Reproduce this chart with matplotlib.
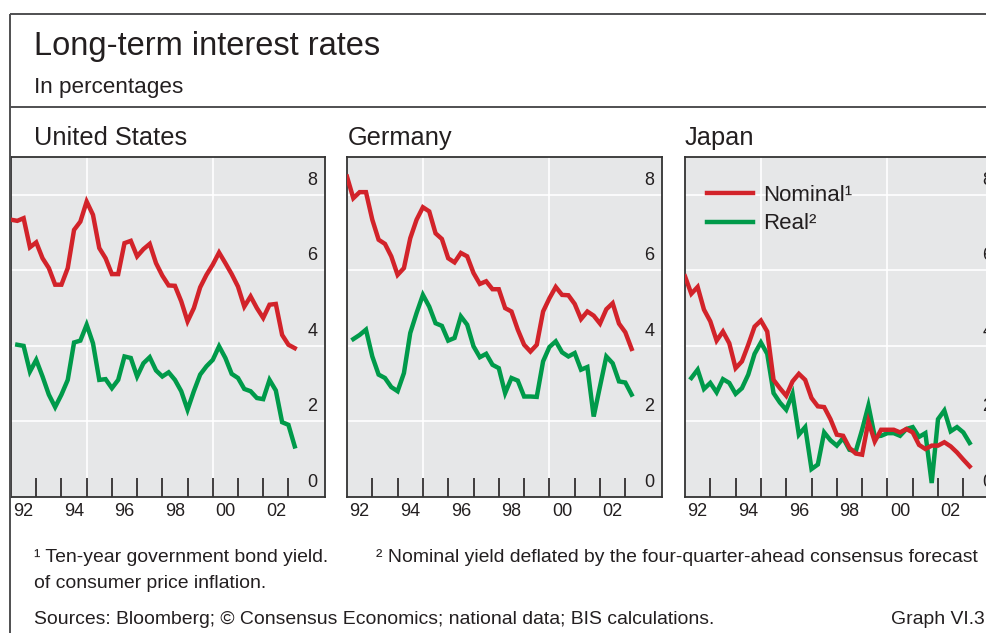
import matplotlib
matplotlib.use("Agg")
import matplotlib.pyplot as plt
import pandas as pd
from matplotlib.lines import Line2D
from matplotlib.transforms import ScaledTranslation

plt.rcParams['font.family'] = ['Liberation Sans', 'DejaVu Sans']

# ---- data (quarterly, per cent) -------------------------------------------
countries = ["United States", "Germany", "Japan"]

us_nominal = [7.34, 7.31, 7.38, 6.61, 6.74, 6.32, 6.06, 5.62, 5.62, 6.06,
              7.07, 7.29, 7.82, 7.47, 6.59, 6.32, 5.90, 5.90, 6.72, 6.78,
              6.37, 6.56, 6.70, 6.19, 5.86, 5.60, 5.59, 5.18, 4.65, 5.00,
              5.55, 5.88, 6.15, 6.47, 6.19, 5.90, 5.57, 5.04, 5.31, 5.00,
              4.74, 5.09, 5.11, 4.29, 4.03, 3.94]
us_real = [4.03, 4.00, 3.32, 3.63, 3.19, 2.71, 2.38, 2.71, 3.10,
           4.09, 4.14, 4.56, 4.07, 3.10, 3.12, 2.88, 3.10, 3.72, 3.68,
           3.19, 3.54, 3.70, 3.35, 3.19, 3.30, 3.10, 2.80, 2.31, 2.80,
           3.24, 3.46, 3.63, 3.99, 3.68, 3.26, 3.15, 2.86, 2.80, 2.62,
           2.59, 3.10, 2.82, 1.98, 1.91, 1.34]

de_nominal = [8.48, 7.91, 8.07, 8.07, 7.34, 6.81, 6.70, 6.37, 5.88, 6.06,
              6.85, 7.34, 7.67, 7.56, 6.98, 6.83, 6.32, 6.21, 6.46, 6.37,
              5.93, 5.64, 5.71, 5.50, 5.50, 5.00, 4.91, 4.43, 4.03, 3.85,
              4.03, 4.91, 5.26, 5.56, 5.35, 5.34, 5.11, 4.71, 4.91, 4.80,
              4.59, 4.97, 5.13, 4.59, 4.36, 3.92]
de_real = [4.18, 4.29, 4.43, 3.72, 3.24, 3.15, 2.91, 2.80, 3.28,
           4.34, 4.87, 5.35, 5.04, 4.60, 4.53, 4.14, 4.21, 4.78, 4.56,
           3.99, 3.70, 3.79, 3.50, 3.41, 2.75, 3.15, 3.08, 2.66, 2.66,
           2.65, 3.59, 3.97, 4.12, 3.83, 3.72, 3.81, 3.37, 3.44, 2.13,
           2.93, 3.72, 3.54, 3.06, 3.03, 2.71]

jp_nominal = [5.84, 5.38, 5.56, 4.96, 4.65, 4.14, 4.38, 4.07, 3.41, 3.59,
              4.03, 4.51, 4.67, 4.38, 3.10, 2.88, 2.68, 3.06, 3.26, 3.10,
              2.62, 2.40, 2.38, 2.06, 1.65, 1.62, 1.30, 1.15, 1.12, 2.00,
              1.47, 1.78, 1.78, 1.78, 1.71, 1.80, 1.71, 1.38, 1.27, 1.36,
              1.36, 1.45, 1.34, 1.18, 0.99, 0.81]
jp_real = [3.15, 3.37, 2.86, 3.02, 2.77, 3.12, 3.02, 2.73, 2.88,
           3.24, 3.79, 4.09, 3.79, 2.75, 2.50, 2.31, 2.73, 1.65, 1.85,
           0.74, 0.86, 1.71, 1.50, 1.36, 1.56, 1.25, 1.21, 1.78, 2.42,
           1.60, 1.62, 1.69, 1.69, 1.62, 1.80, 1.85, 1.59, 1.69, 0.37,
           2.06, 2.29, 1.74, 1.85, 1.71, 1.43]

nominal_q = pd.period_range("1992Q1", "2003Q2", freq="Q")
real_q = pd.period_range("1992Q2", "2003Q2", freq="Q")

year_labels = ["92", "94", "96", "98", "00", "02"]
label_years = [1992, 1994, 1996, 1998, 2000, 2002]
y_ticks = [0, 2, 4, 6, 8]

series = {
    "United States": (us_nominal, us_real),
    "Germany": (de_nominal, de_real),
    "Japan": (jp_nominal, jp_real),
}


def quarter_x(periods):
    return periods.year + (periods.quarter - 1) / 4.0


# ---- styling --------------------------------------------------------------
RED = "#D2232A"
GREEN = "#009A4A"
PANEL = "#E6E7E8"
INK = "#231F20"
FRAME = "#4F4F51"

W, H = 987, 633
fig = plt.figure(figsize=(W / 100, H / 100), dpi=100)


def fx(px):
    return px / W


def fy(py):
    return 1 - py / H


# outer frame of the graph box
frame_kw = dict(transform=fig.transFigure, color=FRAME, lw=1.4, solid_capstyle="butt")
fig.add_artist(Line2D([fx(10), fx(10)], [0, fy(14)], **frame_kw))
fig.add_artist(Line2D([fx(10), 1], [fy(14), fy(14)], **frame_kw))
fig.add_artist(Line2D([fx(10), 1], [fy(107), fy(107)], **frame_kw))

fig.text(fx(34), fy(46), "Long-term interest rates", fontsize=23.5,
         color=INK, va="center", ha="left")
fig.text(fx(34), fy(87), "In percentages", fontsize=16.2, color=INK,
         va="center", ha="left")

panel_lr = [(11, 325), (347, 662), (685, 1000)]
title_x = [34, 348, 685]
top_px, bot_px = 157, 497

for name, (l, r), tx in zip(countries, panel_lr, title_x):
    ax = fig.add_axes([fx(l), fy(bot_px), (r - l) / W, (bot_px - top_px) / H])
    ax.set_facecolor(PANEL)
    nominal, real = series[name]

    ax.set_xlim(1992, 2004.45)
    ax.set_ylim(0, 9)

    for v in y_ticks[1:]:
        ax.axhline(v, color="white", lw=1.2, zorder=1)
    for yr in (1995, 2000):
        ax.axvline(yr, color="white", lw=1.2, zorder=1)

    ln_real, = ax.plot(quarter_x(real_q), real, color=GREEN, lw=3.2,
                       solid_joinstyle="miter", zorder=3, label="Real²")
    ln_nom, = ax.plot(quarter_x(nominal_q), nominal, color=RED, lw=3.2,
                      solid_joinstyle="miter", zorder=4, label="Nominal¹")

    for s in ax.spines.values():
        s.set_color("#333333")
        s.set_linewidth(1.3)

    # year boundary ticks pointing inwards
    ax.set_xticks(range(1993, 2004))
    ax.tick_params(axis="x", which="major", direction="in", length=13.5,
                   width=1.2, color=INK, labelbottom=False)
    ax.set_xticks([y + 0.5 for y in label_years], minor=True)
    ax.set_xticklabels(year_labels, minor=True)
    ax.tick_params(axis="x", which="minor", length=0, pad=4.5,
                   labelsize=13, labelcolor=INK)

    # value labels sit just above their grid lines, inside the right edge
    ax.set_yticks([])
    lift = ScaledTranslation(-0.175, 0.147, fig.dpi_scale_trans)
    for v in y_ticks:
        ax.text(1, v, str(v), transform=ax.get_yaxis_transform() + lift,
                fontsize=13, color=INK, ha="left", va="center")

    fig.text(fx(tx), fy(138), name, fontsize=18.3, color=INK,
             va="center", ha="left")

    if name == "Japan":
        ax.legend(handles=[ln_nom, ln_real], loc="upper left",
                  bbox_to_anchor=(fx(707), fy(185)),
                  bbox_transform=fig.transFigure, frameon=False,
                  fontsize=16, handlelength=2.07, handletextpad=0.45,
                  labelspacing=0.33, borderpad=0, borderaxespad=0,
                  labelcolor=INK)

foot_size = 13.95
fig.text(fx(34), fy(557), "¹ Ten-year government bond yield.", fontsize=foot_size,
         color=INK, va="center", ha="left")
fig.text(fx(376), fy(557),
         "² Nominal yield deflated by the four-quarter-ahead consensus forecast",
         fontsize=foot_size, color=INK, va="center", ha="left")
fig.text(fx(34), fy(584), "of consumer price inflation.", fontsize=foot_size,
         color=INK, va="center", ha="left")
fig.text(fx(34), fy(619),
         "Sources: Bloomberg; © Consensus Economics; national data; BIS calculations.",
         fontsize=foot_size, color=INK, va="center", ha="left")
fig.text(fx(985), fy(619), "Graph VI.3", fontsize=foot_size, color=INK,
         va="center", ha="right")

fig.savefig("out.png", dpi=100)
